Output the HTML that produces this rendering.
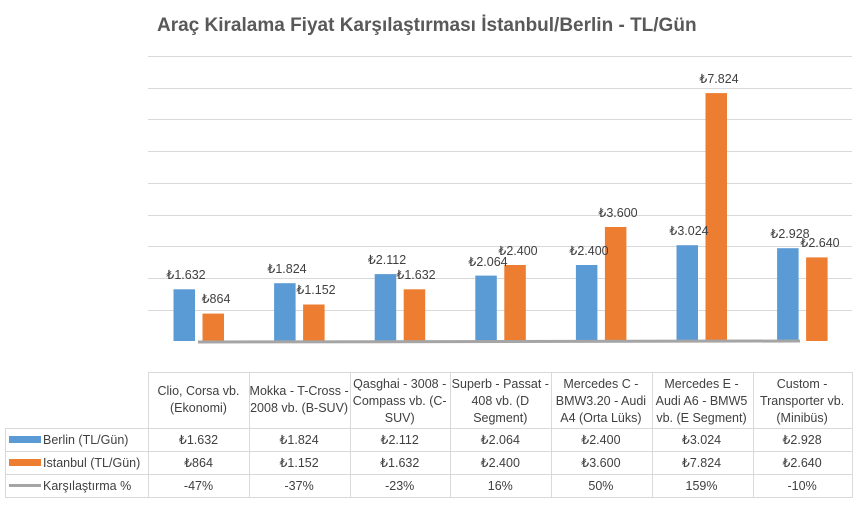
<!DOCTYPE html>
<html><head><meta charset="utf-8"><style>
body{margin:0;background:#fff;}
</style></head><body>
<svg width="860" height="505" xmlns="http://www.w3.org/2000/svg" font-family="Liberation Sans, sans-serif">
<rect width="860" height="505" fill="#fff"/>
<text x="157" y="31" font-size="19" font-weight="bold" fill="#595959">Araç Kiralama Fiyat Karşılaştırması İstanbul/Berlin - TL/Gün</text>
<g stroke="#d9d9d9" stroke-width="1">
<line x1="148" x2="852" y1="56.5" y2="56.5"/><line x1="148" x2="852" y1="88.5" y2="88.5"/>
<line x1="148" x2="852" y1="119.5" y2="119.5"/><line x1="148" x2="852" y1="151.5" y2="151.5"/>
<line x1="148" x2="852" y1="183.5" y2="183.5"/><line x1="148" x2="852" y1="215.5" y2="215.5"/>
<line x1="148" x2="852" y1="246.5" y2="246.5"/><line x1="148" x2="852" y1="278.5" y2="278.5"/>
<line x1="148" x2="852" y1="310.5" y2="310.5"/>
</g>
<g fill="#5b9bd5">
<rect x="173.5" y="289.3" width="21.5" height="51.7"/>
<rect x="274.1" y="283.2" width="21.5" height="57.8"/>
<rect x="374.7" y="274.1" width="21.5" height="66.9"/>
<rect x="475.3" y="275.6" width="21.5" height="65.4"/>
<rect x="575.9" y="265.0" width="21.5" height="76.0"/>
<rect x="676.5" y="245.2" width="21.5" height="95.8"/>
<rect x="777.1" y="248.2" width="21.5" height="92.8"/>
</g>
<g fill="#ed7d31">
<rect x="202.5" y="313.6" width="21.5" height="27.4"/>
<rect x="303.1" y="304.5" width="21.5" height="36.5"/>
<rect x="403.7" y="289.3" width="21.5" height="51.7"/>
<rect x="504.3" y="265.0" width="21.5" height="76.0"/>
<rect x="604.9" y="227.0" width="21.5" height="114.0"/>
<rect x="705.5" y="93.1" width="21.5" height="247.9"/>
<rect x="806.1" y="257.4" width="21.5" height="83.6"/>
</g>
<line x1="198" y1="342" x2="800" y2="341" stroke="#a5a5a5" stroke-width="3"/>
<g font-size="12.5" fill="#404040" text-anchor="middle">
<text x="186" y="279">₺1.632</text>
<text x="287" y="273">₺1.824</text>
<text x="387" y="264">₺2.112</text>
<text x="488" y="266">₺2.064</text>
<text x="589" y="255">₺2.400</text>
<text x="689" y="235">₺3.024</text>
<text x="790" y="238">₺2.928</text>
<text x="216" y="303">₺864</text>
<text x="316" y="294">₺1.152</text>
<text x="416" y="279">₺1.632</text>
<text x="518" y="255">₺2.400</text>
<text x="618" y="217">₺3.600</text>
<text x="719" y="83">₺7.824</text>
<text x="820" y="247">₺2.640</text>
</g>
<g stroke="#d9d9d9" stroke-width="1" fill="none">
<line x1="148" y1="372.5" x2="853" y2="372.5"/>
<line x1="5" y1="428.5" x2="853" y2="428.5"/>
<line x1="5" y1="451.5" x2="853" y2="451.5"/>
<line x1="5" y1="474.5" x2="853" y2="474.5"/>
<line x1="5" y1="497.5" x2="853" y2="497.5"/>
<line x1="5.5" y1="428" x2="5.5" y2="498"/>
<line x1="148.5" y1="372" x2="148.5" y2="498"/>
<line x1="249.5" y1="372" x2="249.5" y2="498"/>
<line x1="350.5" y1="372" x2="350.5" y2="498"/>
<line x1="450.5" y1="372" x2="450.5" y2="498"/>
<line x1="551.5" y1="372" x2="551.5" y2="498"/>
<line x1="652.5" y1="372" x2="652.5" y2="498"/>
<line x1="753.5" y1="372" x2="753.5" y2="498"/>
<line x1="852.5" y1="372" x2="852.5" y2="498"/>
</g>
<rect x="9" y="436" width="32" height="7" fill="#5b9bd5"/>
<rect x="9" y="459" width="32" height="7" fill="#ed7d31"/>
<rect x="9" y="484" width="32" height="3" fill="#a5a5a5"/>
<g font-size="12.5" fill="#404040">
<text x="43" y="444">Berlin (TL/Gün)</text>
<text x="43" y="467">Istanbul (TL/Gün)</text>
<text x="43" y="490">Karşılaştırma %</text>
</g>
<g font-size="12.5" fill="#404040" text-anchor="middle">
<text x="198.5" y="395">Clio, Corsa vb.</text><text x="198.5" y="412">(Ekonomi)</text>
<text x="299.1" y="395">Mokka - T-Cross -</text><text x="299.1" y="412">2008 vb. (B-SUV)</text>
<text x="399.7" y="388">Qasghai - 3008 -</text><text x="399.7" y="405">Compass vb. (C-</text><text x="399.7" y="422">SUV)</text>
<text x="500.3" y="388">Superb - Passat -</text><text x="500.3" y="405">408 vb. (D</text><text x="500.3" y="422">Segment)</text>
<text x="600.9" y="388">Mercedes C -</text><text x="600.9" y="405">BMW3.20 - Audi</text><text x="600.9" y="422">A4 (Orta Lüks)</text>
<text x="701.5" y="388">Mercedes E -</text><text x="701.5" y="405">Audi A6 - BMW5</text><text x="701.5" y="422">vb. (E Segment)</text>
<text x="802.1" y="388">Custom -</text><text x="802.1" y="405">Transporter vb.</text><text x="802.1" y="422">(Minibüs)</text>
<text x="198.5" y="444">₺1.632</text><text x="299.1" y="444">₺1.824</text><text x="399.7" y="444">₺2.112</text><text x="500.3" y="444">₺2.064</text><text x="600.9" y="444">₺2.400</text><text x="701.5" y="444">₺3.024</text><text x="802.1" y="444">₺2.928</text>
<text x="198.5" y="467">₺864</text><text x="299.1" y="467">₺1.152</text><text x="399.7" y="467">₺1.632</text><text x="500.3" y="467">₺2.400</text><text x="600.9" y="467">₺3.600</text><text x="701.5" y="467">₺7.824</text><text x="802.1" y="467">₺2.640</text>
<text x="198.5" y="490">-47%</text><text x="299.1" y="490">-37%</text><text x="399.7" y="490">-23%</text><text x="500.3" y="490">16%</text><text x="600.9" y="490">50%</text><text x="701.5" y="490">159%</text><text x="802.1" y="490">-10%</text>
</g>
</svg>
</body></html>
